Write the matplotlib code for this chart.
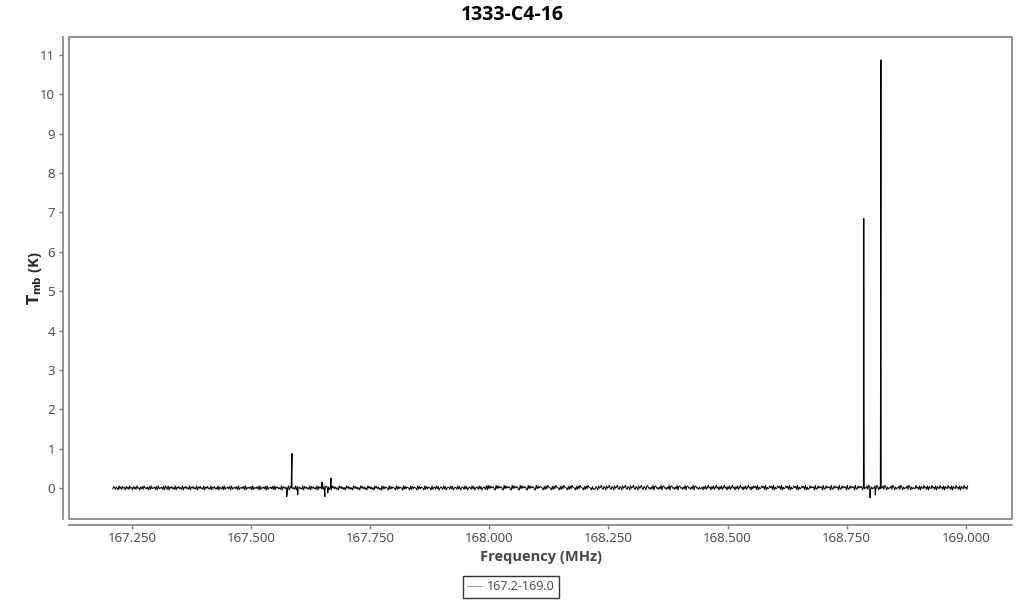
import numpy as np
import matplotlib
matplotlib.use("Agg")
import matplotlib.pyplot as plt
from matplotlib.patches import Rectangle

plt.rcParams['font.family'] = ['Open Sans', 'DejaVu Sans']

# Baseline noise, one digit per channel: T = (digit - 4.5) * 0.015 K (estimated band around 0)
noise_rows = [
 "375264183627451736284517362845163728453617283546271835462718",
 "528164735281647352816473528164735281647352816473528164735281",
 "643718254637182546371825463718254637182546371825463718254637",
 "281746352817463528174635281746352817463528174635281746352817",
 "736251847362518473625184736251847362518473625184736251847362",
 "418273654182736541827365418273654182736541827365418273654182",
 "562837146528371465283714652837146528371465283714652837146528",
 "193847562193847562193847562193847562193847562193847562193847",
 "654172839654172839654172839654172839654172839654172839654172",
 "327518469327518469327518469327518469327518469327518469327518",
 "845263917845263917845263917845263917845263917845263917845263",
 "461738259461738259461738259461738259461738259461738259461738",
 "572916348572916348572916348572916348572916348572916348572916",
 "238475619238475619238475619238475619238475619238475619238475",
 "716354829716354829716354829716354829716354829716354829716354",
 "394628175394628175394628175394628175394628175394628175394628",
]
f_start, f_stop = 167.21, 169.004

# Spectral features (MHz, K)
line_freq = [167.575, 167.586, 167.598, 167.649, 167.655, 167.661, 167.668,
             168.786, 168.799, 168.810, 168.822]
line_tmb  = [-0.22, 0.88, -0.18, 0.15, -0.22, -0.13, 0.25,
             6.85, -0.25, -0.18, 10.88]

x_ticks = [167.25, 167.5, 167.75, 168.0, 168.25, 168.5, 168.75, 169.0]
y_ticks = list(range(0, 12))

noise = np.array([(int(c) - 4.5) * 0.015 for row in noise_rows for c in row])
base_f = np.linspace(f_start, f_stop, len(noise))
freq = np.concatenate([base_f, np.array(line_freq)])
tmb = np.concatenate([noise, np.array(line_tmb)])
order = np.argsort(freq, kind='stable')
freq, tmb = freq[order], tmb[order]

fig = plt.figure(figsize=(10.24, 6), dpi=100)
ax = fig.add_axes([69/1024, 81/600, (1012-69)/1024, (519-37)/600])
ax.plot(freq, tmb, color='black', lw=0.7, label='167.2-169.0')

ax.set_xlim(167.118, 169.097)
ax.set_ylim(-0.79, 11.46)
ax.set_xticks(x_ticks)
ax.set_xticklabels([f"{v:.3f}" for v in x_ticks])
ax.set_yticks(y_ticks)

grey = '#808080'
for s in ['top', 'right']:
    ax.spines[s].set_visible(False)
ax.spines['left'].set_position(('outward', 4))
ax.spines['bottom'].set_position(('outward', 4))
ax.spines['left'].set_color(grey)
ax.spines['bottom'].set_color(grey)
ax.spines['left'].set_linewidth(1.2)
ax.spines['bottom'].set_linewidth(1.2)
ax.add_patch(Rectangle((0, 0), 1, 1, transform=ax.transAxes, fill=False,
                       edgecolor=grey, lw=1.2, clip_on=False))
ax.tick_params(axis='both', colors=grey, labelcolor='#444444', labelsize=9.5,
               length=3, width=1)
ax.tick_params(axis='x', pad=2)
ax.tick_params(axis='y', pad=3)

ax.set_xlabel('Frequency (MHz)', fontsize=10.5, fontweight='bold', color='#444444', labelpad=4)
ax.set_ylabel(r'$\mathbf{T_{mb}}$ (K)', fontsize=10.5, fontweight='bold', color='#222222', labelpad=-3)
fig.suptitle('1333-C4-16', fontsize=14, fontweight='bold', y=0.992)

leg = fig.legend(loc='center', bbox_to_anchor=(511/1024, 13/600), ncol=1, fontsize=9,
                 frameon=True, fancybox=False, handlelength=1.2, handletextpad=0.4,
                 borderpad=0.35, borderaxespad=0)
leg.get_frame().set_edgecolor('black')
leg.get_frame().set_linewidth(1)
for t in leg.get_texts():
    t.set_color('#444444')
for l in leg.get_lines():
    l.set_linewidth(0.6)
    l.set_color(grey)

fig.savefig('out.png', dpi=100)
